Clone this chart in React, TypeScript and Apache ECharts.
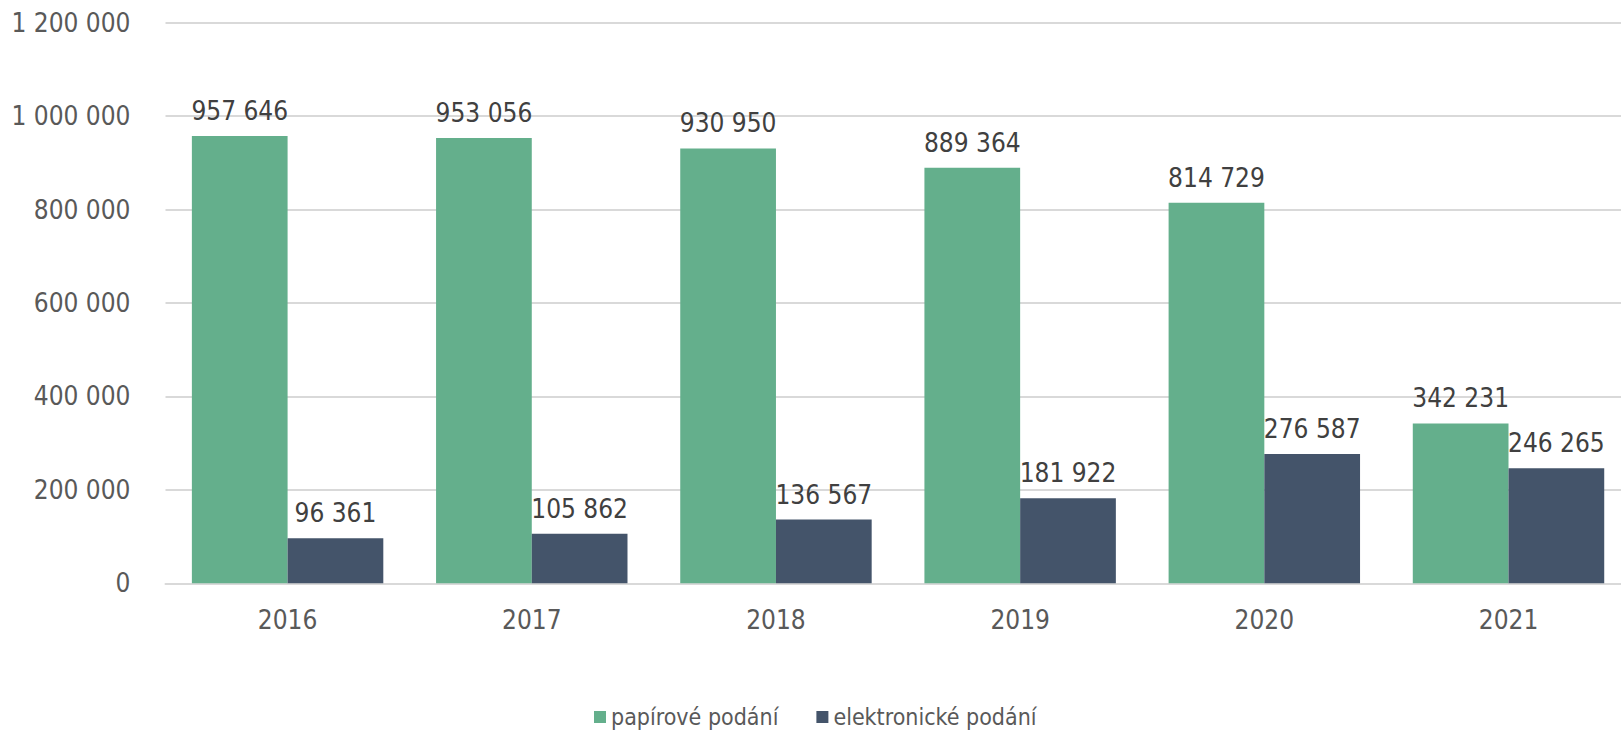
import React, { useEffect, useRef } from "react";
import * as echarts from "echarts";

const categories = ["2016", "2017", "2018", "2019", "2020", "2021"];
const paperValues = [957646, 953056, 930950, 889364, 814729, 342231];
const electronicValues = [96361, 105862, 136567, 181922, 276587, 246265];
const seriesNames = ["papírové podání", "elektronické podání"];

const FONT = "'DejaVu Sans Condensed', 'Noto Sans', sans-serif";

const fmt = (v: number) => String(Math.round(v)).replace(/\B(?=(\d{3})+(?!\d))/g, " ");

export default function App() {
  const ref = useRef<HTMLDivElement>(null);
  useEffect(() => {
    if (!ref.current) return;
    const chart = echarts.init(ref.current, null, { renderer: "svg" });
    const label = {
      show: true,
      position: "top",
      distance: 12,
      color: "#404040",
      fontSize: 26,
      fontFamily: FONT,
      formatter: (p: any) => fmt(p.value),
    };
    chart.setOption({
      animation: false,
      textStyle: { fontFamily: FONT },
      grid: { left: 165.5, right: 9.4, top: 22.7, bottom: 148.7, containLabel: false },
      legend: {
        left: 589,
        top: 699,
        icon: "rect",
        itemWidth: 12,
        itemHeight: 12,
        itemGap: 38,
        textStyle: { color: "#595959", fontSize: 23, fontFamily: FONT, lineHeight: 26 },
        data: seriesNames,
      },
      xAxis: {
        type: "category",
        data: categories,
        axisLine: { show: true, lineStyle: { color: "#D9D9D9", width: 2 } },
        axisTick: { show: false },
        axisLabel: { color: "#595959", fontSize: 26, fontFamily: FONT, margin: 24 },
      },
      yAxis: {
        type: "value",
        min: 0,
        max: 1200000,
        interval: 200000,
        axisLine: { show: false },
        axisTick: { show: false },
        splitLine: { lineStyle: { color: "#D9D9D9", width: 2 } },
        axisLabel: {
          color: "#595959",
          fontSize: 26,
          fontFamily: FONT,
          margin: 35,
          formatter: (v: number) => fmt(v),
        },
      },
      series: [
        {
          name: seriesNames[0],
          type: "bar",
          data: paperValues,
          barGap: "0%",
          barCategoryGap: "21.6%",
          itemStyle: { color: "#64AF8C" },
          label,
        },
        {
          name: seriesNames[1],
          type: "bar",
          data: electronicValues,
          barGap: "0%",
          barCategoryGap: "21.6%",
          itemStyle: { color: "#44546A" },
          label,
        },
      ],
    });
    return () => chart.dispose();
  }, []);
  return (
    <div style={{ position: "absolute", left: 0, top: 0, width: 1621, height: 732, overflow: "hidden", background: "#fff" }}>
      <div ref={ref} style={{ width: 1640, height: 732 }} />
    </div>
  );
}
